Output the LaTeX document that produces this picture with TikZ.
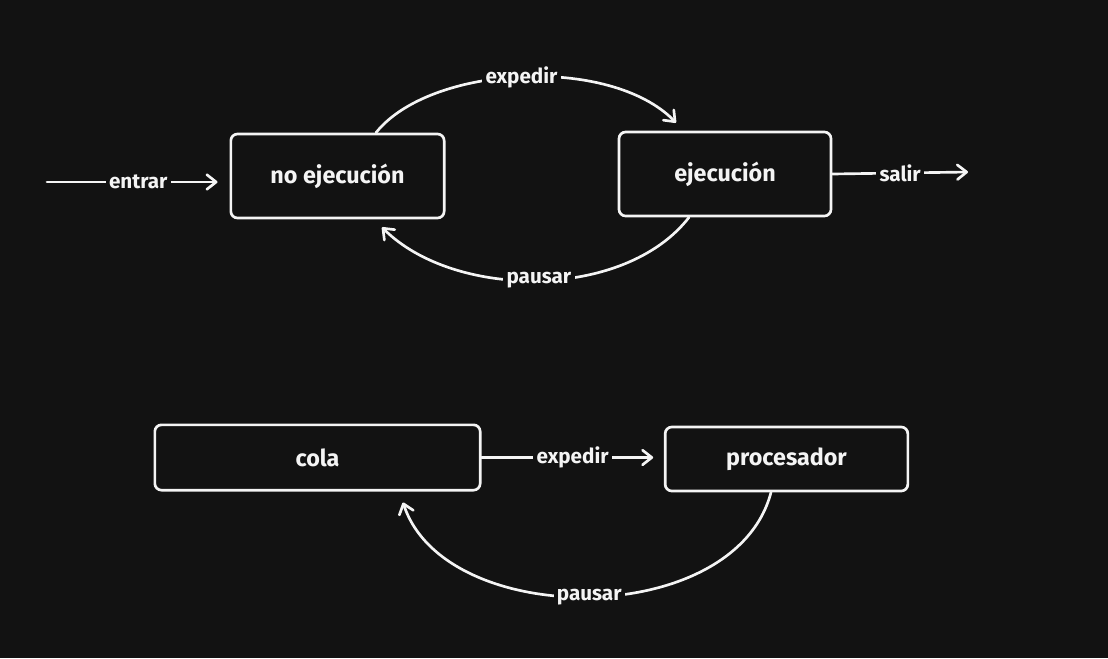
\documentclass[tikz,border=0pt]{standalone}
\usepackage{fontspec}
\setmainfont{Fira Sans}
\usetikzlibrary{arrows.meta,calc}
\definecolor{bg}{HTML}{121212}
\definecolor{ink}{HTML}{F4F4F4}
\begin{document}
\begin{tikzpicture}[x=0.75pt,y=-0.75pt,
  statebox/.style={draw=ink, fill=bg, line width=2pt, rounded corners=5pt,
    text=ink, font=\fontsize{17.5}{20}\selectfont\bfseries, inner sep=0pt},
  lbl/.style={fill=bg, text=ink, font=\fontsize{15.5}{18}\selectfont\bfseries, inner sep=2.5pt},
  conn/.style={draw=ink, line width=2pt, line cap=round,
    -{Straight Barb[length=7pt,width=11pt,line cap=round,line join=round]}}
]
\fill[bg] (0,0) rectangle (1108,658);
\useasboundingbox (0,0) rectangle (1108,658);

% nodes
\node[statebox, minimum width=160pt, minimum height=63pt] (noexec) at (337.5,176) {no ejecución};
\node[statebox, minimum width=159pt, minimum height=63pt] (exec) at (725,174) {ejecución};
\node[statebox, minimum width=244pt, minimum height=49pt] (cola) at (317.5,457.5) {cola};
\node[statebox, minimum width=182pt, minimum height=48pt] (proc) at (786.5,459) {procesador};

\coordinate (in) at (47,182);
\coordinate (out) at (968,172);

% straight connectors
\draw[conn, shorten >=9pt] (in) -- node[lbl] {entrar} (noexec.west |- in);
\draw[conn] (exec.east) -- node[lbl] {salir} (out);
\draw[conn, shorten >=8pt] (cola.east) -- node[lbl] {expedir} (proc.west |- cola.east);

% curved connectors
\draw[conn] ($(noexec.north)+(38.5,0)$) .. controls (430,65) and (610,55) ..
  node[lbl, pos=0.5] {expedir} ($(exec.north)+(-49,-8)$);
\draw[conn] ($(exec.south)+(-36,0)$) .. controls (625,300) and (455,300) ..
  node[lbl, pos=0.5] {pausar} ($(noexec.south)+(44.5,8)$);
\draw[conn] ($(proc.south)+(-15.5,0)$) .. controls (735,630) and (445,630) ..
  node[lbl, pos=0.5] {pausar} ($(cola.south)+(85.5,11)$);
\end{tikzpicture}
\end{document}
